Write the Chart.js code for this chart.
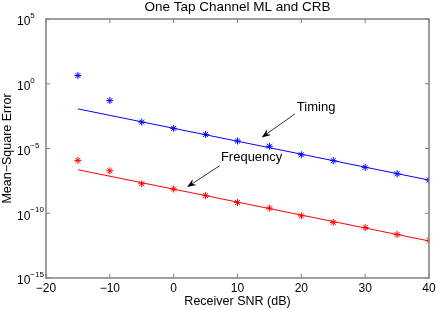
<!DOCTYPE html>
<html>
<head>
<meta charset="utf-8">
<script src="https://cdn.jsdelivr.net/npm/chart.js@4/dist/chart.umd.min.js"></script>
<style>
  html, body { margin: 0; padding: 0; background: #fff; }
  canvas { display: block; }
</style>
</head>
<body>
<canvas id="mseChart" width="436" height="310"></canvas>
<script>
// receiver SNR (dB)
var snr = [-15, -10, -5, 0, 5, 10, 15, 20, 25, 30, 35, 40];

// ML simulation (stars) and CRB (lines)
var timingML = [4.3, 5.0e-2, 1.1e-3, 3.6e-4, 1.2e-4, 3.8e-5, 1.5e-5, 3.3e-6, 1.15e-6, 3.5e-7, 1.12e-7, 3.6e-8];
var timingCRB = [1.15e-2, 3.63e-3, 1.15e-3, 3.63e-4, 1.15e-4, 3.63e-5, 1.15e-5, 3.63e-6, 1.15e-6, 3.63e-7, 1.15e-7, 3.63e-8];
var freqML = [1.2e-6, 1.9e-7, 1.9e-8, 7.4e-9, 2.3e-9, 6.8e-10, 2.5e-10, 6.3e-11, 2.0e-11, 7.9e-12, 2.3e-12, 7.9e-13];
var freqCRB = [2.29e-7, 7.24e-8, 2.29e-8, 7.24e-9, 2.29e-9, 7.24e-10, 2.29e-10, 7.24e-11, 2.29e-11, 7.24e-12, 2.29e-12, 7.24e-13];

var xTicks = [-20, -10, 0, 10, 20, 30, 40];
var yTickExps = [5, 0, -5, -10, -15];

// annotations: text position, arrow tail, arrow tip (data coords)
var notes = [
  { text: 'Timing', tx: 19.3, ty: 1.45e-2, ax: 19.0, ay: 4.7e-3, bx: 13.8, by: 7.2e-5 },
  { text: 'Frequency', tx: 7.4, ty: 1.95e-6, ax: 7.2, ay: 4.7e-7, bx: 2.1, by: 1.05e-8 }
];

function pts(ys) {
  return snr.map(function(x, i) { return { x: x, y: ys[i] }; });
}

var FONT = '"Liberation Sans", Arial, Helvetica, sans-serif';

var matlabAxes = {
  id: 'matlabAxes',
  afterDraw: function(chart) {
    var ctx = chart.ctx;
    var a = chart.chartArea;
    var xs = chart.scales.x, ys = chart.scales.y;
    ctx.save();
    // box
    ctx.strokeStyle = '#808080';
    ctx.lineWidth = 1.5;
    ctx.strokeRect(a.left, a.top, a.right - a.left, a.bottom - a.top);
    // inward ticks
    ctx.lineWidth = 1;
    ctx.beginPath();
    xTicks.forEach(function(v) {
      var px = xs.getPixelForValue(v);
      ctx.moveTo(px, a.bottom); ctx.lineTo(px, a.bottom - 4);
      ctx.moveTo(px, a.top); ctx.lineTo(px, a.top + 4);
    });
    yTickExps.forEach(function(e) {
      var py = ys.getPixelForValue(Math.pow(10, e));
      ctx.moveTo(a.left, py); ctx.lineTo(a.left + 4, py);
      ctx.moveTo(a.right, py); ctx.lineTo(a.right - 4, py);
    });
    ctx.stroke();

    // y tick labels 10^e
    ctx.fillStyle = '#000';
    ctx.textBaseline = 'middle';
    ctx.textAlign = 'left';
    yTickExps.forEach(function(e) {
      var py = ys.getPixelForValue(Math.pow(10, e));
      ctx.font = '12px ' + FONT;
      ctx.fillText('10', 17, py + 3);
      var w = ctx.measureText('10').width;
      ctx.font = '8px ' + FONT;
      ctx.fillText(e < 0 ? '\u2212' + (-e) : String(e), 17 + w, py - 3);
    });

    // titles
    ctx.textAlign = 'center';
    ctx.font = '13.5px ' + FONT;
    ctx.fillText('One Tap Channel ML and CRB', (a.left + a.right) / 2, 7);
    ctx.font = '12.5px ' + FONT;
    ctx.fillText('Receiver SNR (dB)', (a.left + a.right) / 2, 302);
    ctx.save();
    ctx.translate(8, (a.top + a.bottom) / 2);
    ctx.rotate(-Math.PI / 2);
    ctx.fillText('Mean\u2212Square Error', 0, 0);
    ctx.restore();

    // annotations with arrows
    notes.forEach(function(n) {
      ctx.font = '13px ' + FONT;
      ctx.textAlign = 'left';
      ctx.fillStyle = '#000';
      ctx.fillText(n.text, xs.getPixelForValue(n.tx), ys.getPixelForValue(n.ty));
      var x1 = xs.getPixelForValue(n.ax), y1 = ys.getPixelForValue(n.ay);
      var x2 = xs.getPixelForValue(n.bx), y2 = ys.getPixelForValue(n.by);
      var c = Math.cos(Math.atan2(y2 - y1, x2 - x1)), s = Math.sin(Math.atan2(y2 - y1, x2 - x1));
      ctx.strokeStyle = '#000';
      ctx.lineWidth = 0.8;
      ctx.beginPath();
      ctx.moveTo(x1, y1);
      ctx.lineTo(x2 - 6 * c, y2 - 6 * s);
      ctx.stroke();
      ctx.beginPath();
      ctx.moveTo(x2, y2);
      ctx.lineTo(x2 - 9 * c + 3.5 * s, y2 - 9 * s - 3.5 * c);
      ctx.lineTo(x2 - 6 * c, y2 - 6 * s);
      ctx.lineTo(x2 - 9 * c - 3.5 * s, y2 - 9 * s + 3.5 * c);
      ctx.closePath();
      ctx.fill();
    });
    ctx.restore();
  }
};

function lineSet(label, data, color) {
  return {
    label: label, data: pts(data), borderColor: color, borderWidth: 1,
    pointRadius: 0, showLine: true, fill: false, tension: 0
  };
}
function starSet(label, data, color) {
  return {
    label: label, data: pts(data), borderColor: color, backgroundColor: color,
    pointStyle: 'star', pointRadius: 3.5, pointBorderWidth: 1, showLine: false
  };
}

new Chart(document.getElementById('mseChart'), {
  type: 'scatter',
  data: {
    datasets: [
      lineSet('Timing CRB', timingCRB, '#0000ff'),
      starSet('Timing ML', timingML, '#0000ff'),
      lineSet('Frequency CRB', freqCRB, '#ff0000'),
      starSet('Frequency ML', freqML, '#ff0000')
    ]
  },
  plugins: [matlabAxes],
  options: {
    responsive: false,
    animation: false,
    layout: { padding: { left: 0, right: 7, top: 19, bottom: 0 } },
    plugins: { legend: { display: false }, tooltip: { enabled: false } },
    scales: {
      x: {
        type: 'linear', min: -20, max: 40,
        grid: { display: false, drawTicks: false },
        border: { display: false },
        ticks: {
          stepSize: 10, padding: 3, color: '#000', maxRotation: 0,
          font: { size: 12, family: FONT },
          callback: function(v) { return v < 0 ? '\u2212' + (-v) : String(v); }
        },
        afterFit: function(s) { s.height = 32; s.paddingLeft = 0; s.paddingRight = 0; }
      },
      y: {
        type: 'logarithmic', min: 1e-15, max: 1e5,
        grid: { display: false, drawTicks: false },
        border: { display: false },
        ticks: { display: false },
        afterFit: function(s) { s.width = 46; s.paddingTop = 0; s.paddingBottom = 0; }
      }
    }
  }
});
</script>
</body>
</html>
